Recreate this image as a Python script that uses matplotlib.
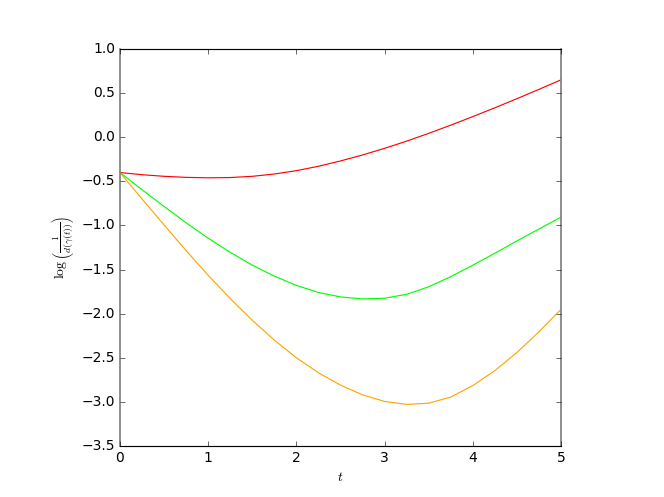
import numpy as np
import matplotlib
matplotlib.use("Agg")
import matplotlib.pyplot as plt

plt.style.use("classic")

t = [0.0, 0.25, 0.5, 0.75, 1.0, 1.25, 1.5, 1.75, 2.0, 2.25, 2.5,
     2.75, 3.0, 3.25, 3.5, 3.75, 4.0, 4.25, 4.5, 4.75, 5.0]
red = [-0.400, -0.425, -0.443, -0.455, -0.460, -0.457, -0.443, -0.417, -0.379, -0.329, -0.269,
       -0.201, -0.126, -0.044, 0.044, 0.137, 0.234, 0.334, 0.437, 0.543, 0.651]
green = [-0.400, -0.595, -0.785, -0.970, -1.145, -1.305, -1.450, -1.575, -1.680, -1.760, -1.810,
         -1.833, -1.825, -1.780, -1.695, -1.580, -1.450, -1.315, -1.175, -1.040, -0.905]
orange = [-0.400, -0.700, -0.995, -1.285, -1.565, -1.830, -2.075, -2.300, -2.500, -2.670, -2.810,
          -2.920, -2.995, -3.028, -3.015, -2.945, -2.815, -2.645, -2.440, -2.205, -1.950]

fig = plt.figure(figsize=(8, 5.988), dpi=83, facecolor="white")
ax = fig.add_axes([0.1807, 0.1026, 0.6643, 0.7988])

ax.plot(t, red, color="red", lw=1.0)
ax.plot(t, green, color="#00ff00", lw=1.0)
ax.plot(t, orange, color="orange", lw=1.0)

ax.set_xlim(0, 5)
ax.set_ylim(-3.5, 1.0)
ax.set_xlabel(r"$t$")
ax.set_ylabel(r"$\log\left(\frac{1}{d(\gamma(t))}\right)$")

for side in ["left", "right"]:
    ax.spines[side].set_color("0.5")
    ax.spines[side].set_linewidth(1.5)

fig.savefig("out.png", dpi=83, facecolor="white")
